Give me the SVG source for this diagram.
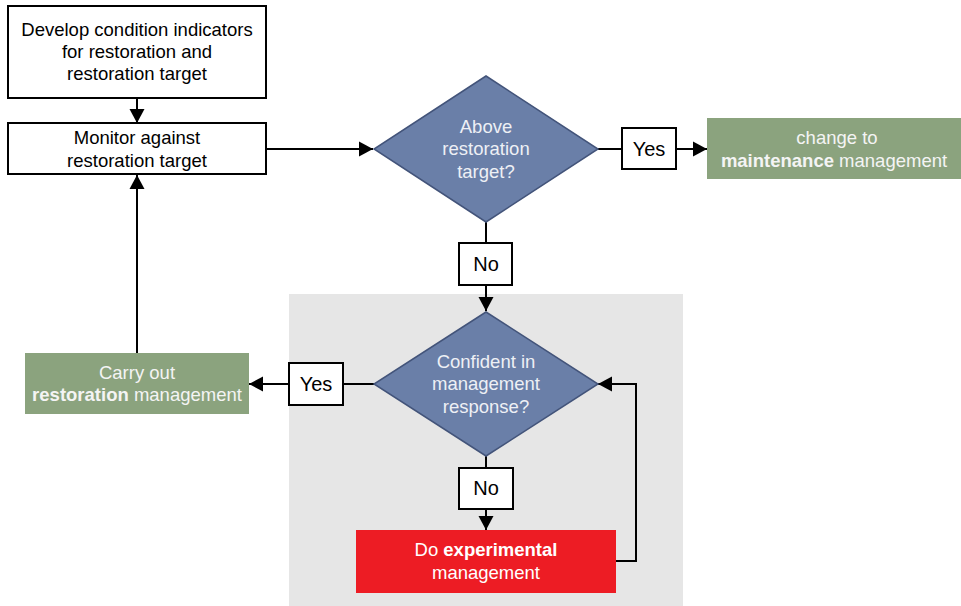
<svg xmlns="http://www.w3.org/2000/svg" width="961" height="606" viewBox="0 0 961 606">
<defs>
<marker id="arr" markerUnits="userSpaceOnUse" markerWidth="16" markerHeight="16" refX="14" refY="8" orient="auto">
<path d="M0,0.5 L14,8 L0,15.5 z" fill="#000"/>
</marker>
<style>
text{font-family:"Liberation Sans",Arial,sans-serif;font-size:18.5px;text-anchor:middle}
.box{fill:#fff;stroke:#000;stroke-width:2}
.dia{fill:#6A7FA8;stroke:#43547A;stroke-width:1.5}
.lbl{font-size:20px;fill:#000}
.dk{fill:#000}
.lt{fill:#EEF0F5}
.wt{fill:#F4F4F4}
.b{font-weight:bold}
.con{fill:none;stroke:#000;stroke-width:2}
</style>
</defs>
<rect x="289" y="294" width="394" height="312" fill="#E6E6E6"/>
<g id="connectors">
<line class="con" x1="137" y1="99" x2="137" y2="123" marker-end="url(#arr)"/>
<line class="con" x1="266" y1="149" x2="373" y2="149" marker-end="url(#arr)"/>
<line class="con" x1="598" y1="149" x2="622" y2="149"/>
<line class="con" x1="676" y1="149" x2="707" y2="149" marker-end="url(#arr)"/>
<line class="con" x1="486" y1="222" x2="486" y2="243"/>
<line class="con" x1="486" y1="285" x2="486" y2="311" marker-end="url(#arr)"/>
<line class="con" x1="374" y1="384" x2="343" y2="384"/>
<line class="con" x1="289" y1="384" x2="249" y2="384" marker-end="url(#arr)"/>
<line class="con" x1="137" y1="353" x2="137" y2="175" marker-end="url(#arr)"/>
<line class="con" x1="486" y1="456" x2="486" y2="468"/>
<line class="con" x1="486" y1="509" x2="486" y2="530" marker-end="url(#arr)"/>
<polyline class="con" points="616,561 636,561 636,384 598,384" marker-end="url(#arr)"/>
</g>
<g id="develop">
<rect class="box" x="8" y="6" width="258" height="92"/>
<text class="dk" x="137" y="36">Develop condition indicators</text>
<text class="dk" x="137" y="58">for restoration and</text>
<text class="dk" x="137" y="80">restoration target</text>
</g>
<g id="monitor">
<rect class="box" x="8" y="123" width="258" height="51"/>
<text class="dk" x="137" y="144">Monitor against</text>
<text class="dk" x="137" y="167">restoration target</text>
</g>
<g id="above">
<polygon class="dia" points="486,76 598,149 486,222 374,149"/>
<text class="lt" x="486" y="133">Above</text>
<text class="lt" x="486" y="155">restoration</text>
<text class="lt" x="486" y="178">target?</text>
</g>
<g id="yes1">
<rect class="box" x="622" y="128" width="54" height="41"/>
<text class="lbl" x="649" y="156">Yes</text>
</g>
<g id="maintenance">
<rect x="707" y="118" width="254" height="61" fill="#8BA37E"/>
<text class="wt" x="837" y="144">change to</text>
<text class="wt" x="834" y="167"><tspan class="b">maintenance</tspan> management</text>
</g>
<g id="no1">
<rect class="box" x="459" y="243" width="53" height="42"/>
<text class="lbl" x="486" y="271">No</text>
</g>
<g id="confident">
<polygon class="dia" points="486,312 598,384 486,456 374,384"/>
<text class="lt" x="486" y="368">Confident in</text>
<text class="lt" x="486" y="390">management</text>
<text class="lt" x="486" y="413">response?</text>
</g>
<g id="yes2">
<rect class="box" x="289" y="363" width="54" height="42"/>
<text class="lbl" x="316" y="391">Yes</text>
</g>
<g id="restoration">
<rect x="25" y="353" width="224" height="61" fill="#8BA37E"/>
<text class="wt" x="137" y="379">Carry out</text>
<text class="wt" x="137" y="401"><tspan class="b">restoration</tspan> management</text>
</g>
<g id="no2">
<rect class="box" x="459" y="468" width="54" height="41"/>
<text class="lbl" x="486" y="495">No</text>
</g>
<g id="experimental">
<rect x="356" y="530" width="260" height="63" fill="#ED1C24"/>
<text fill="#fff" x="486" y="556">Do <tspan class="b">experimental</tspan></text>
<text fill="#fff" x="486" y="579">management</text>
</g>
</svg>
